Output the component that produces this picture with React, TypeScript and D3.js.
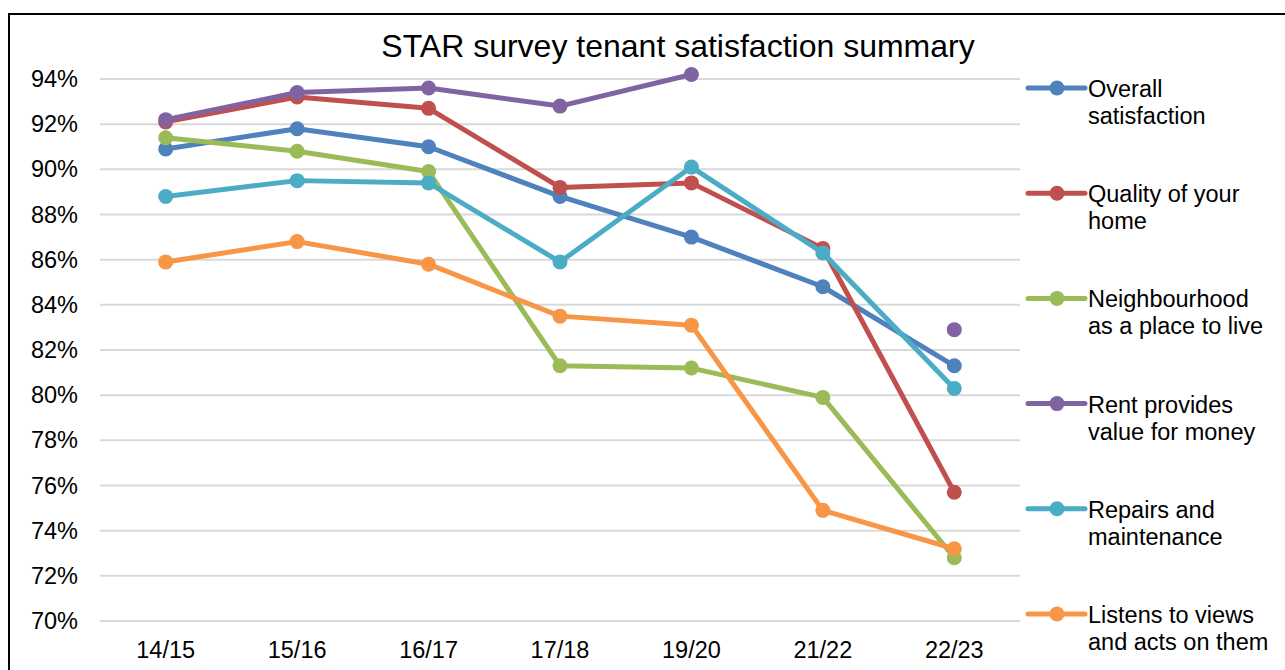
import React from "react";
import * as d3 from "d3";

const categories = ["14/15", "15/16", "16/17", "17/18", "19/20", "21/22", "22/23"];
const seriesNames = [
  ["Overall", "satisfaction"],
  ["Quality of your", "home"],
  ["Neighbourhood", "as a place to live"],
  ["Rent provides", "value for money"],
  ["Repairs and", "maintenance"],
  ["Listens to views", "and acts on them"],
];
const overall = [90.9, 91.8, 91.0, 88.8, 87.0, 84.8, 81.3];
const quality = [92.1, 93.2, 92.7, 89.2, 89.4, 86.5, 75.7];
const neighbourhood = [91.4, 90.8, 89.9, 81.3, 81.2, 79.9, 72.8];
const rent: (number | null)[] = [92.2, 93.4, 93.6, 92.8, 94.2, null, 82.9];
const repairs = [88.8, 89.5, 89.4, 85.9, 90.1, 86.3, 80.3];
const listens = [85.9, 86.8, 85.8, 83.5, 83.1, 74.9, 73.2];
const yTicks = [70, 72, 74, 76, 78, 80, 82, 84, 86, 88, 90, 92, 94];
const colors = ["#4F81BD", "#C0504D", "#9BBB59", "#8064A2", "#4BACC6", "#F79646"];
const allSeries: (number | null)[][] = [overall, quality, neighbourhood, rent, repairs, listens];

const FONT = "'Liberation Sans', Arial, sans-serif";

export default function App() {
  const x = d3.scalePoint<string>().domain(categories).range([100, 1020]).padding(0.5);
  const y = d3.scaleLinear().domain([70, 94]).range([621, 79]);
  const line = d3
    .line<number | null>()
    .defined((d) => d !== null)
    .x((_, i) => x(categories[i]) as number)
    .y((d) => y(d as number));

  const legendY0 = 88;
  const legendStep = 105.2;

  return (
    <svg
      width={1285}
      height={670}
      style={{ position: "absolute", left: 0, top: 0, background: "#fff" }}
      fontFamily={FONT}
    >
      <rect x={0} y={0} width={1285} height={670} fill="#fff" />
      <rect x={9} y={14} width={1300} height={700} fill="none" stroke="#000" strokeWidth={2} />
      <text x={678} y={57} textAnchor="middle" fontSize={32} fill="#000">
        STAR survey tenant satisfaction summary
      </text>
      {yTicks.map((t) => (
        <g key={t}>
          <line x1={100} x2={1020} y1={y(t)} y2={y(t)} stroke="#D9D9D9" strokeWidth={2} />
          <text x={78} y={y(t) + 8} textAnchor="end" fontSize={23.5} fill="#000">
            {t}%
          </text>
        </g>
      ))}
      {categories.map((c) => (
        <text key={c} x={x(c)} y={658} textAnchor="middle" fontSize={23.5} fill="#000">
          {c}
        </text>
      ))}
      {allSeries.map((s, si) => (
        <g key={si}>
          <path d={line(s) || ""} fill="none" stroke={colors[si]} strokeWidth={5} strokeLinejoin="round" />
          {s.map((v, i) =>
            v === null ? null : (
              <circle key={i} cx={x(categories[i])} cy={y(v)} r={7.5} fill={colors[si]} />
            )
          )}
        </g>
      ))}
      {seriesNames.map((n, i) => {
        const ly = legendY0 + i * legendStep;
        return (
          <g key={i}>
            <line x1={1028} x2={1085} y1={ly} y2={ly} stroke={colors[i]} strokeWidth={5} strokeLinecap="round" />
            <circle cx={1057} cy={ly} r={7.5} fill={colors[i]} />
            <text x={1088} y={ly + 9} fontSize={23.5} fill="#000">
              {n[0]}
            </text>
            <text x={1088} y={ly + 36} fontSize={23.5} fill="#000">
              {n[1]}
            </text>
          </g>
        );
      })}
    </svg>
  );
}
